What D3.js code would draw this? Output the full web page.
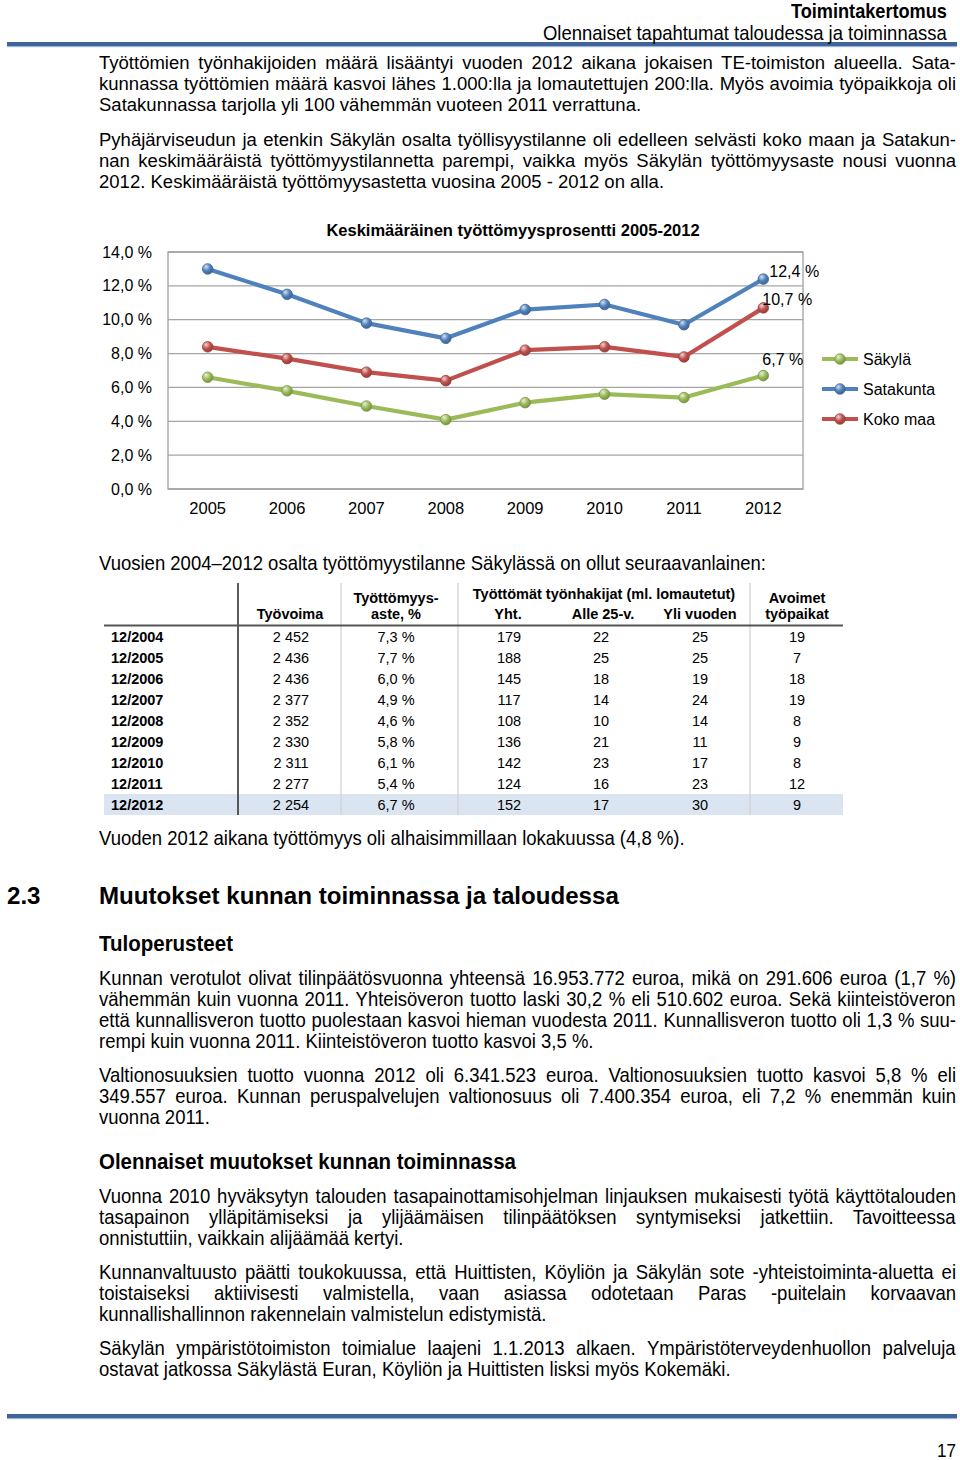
<!DOCTYPE html>
<html><head><meta charset="utf-8">
<script src="https://cdn.jsdelivr.net/npm/d3@7"></script>
<style>
body{margin:0;background:#fff;}
#page{position:relative;width:960px;height:1460px;overflow:hidden;background:#fff;}
#svg{position:absolute;left:0;top:0;}
.ln{position:absolute;white-space:nowrap;color:#000;line-height:21px;}
</style></head><body><div id="page"><svg id="svg" width="960" height="1460"></svg></div>
<script>
// ---------- chart data ----------
const years = ["2005","2006","2007","2008","2009","2010","2011","2012"];
const sakyla    = [6.6, 5.8, 4.9, 4.1, 5.1, 5.6, 5.4, 6.7];
const satakunta = [13.0, 11.5, 9.8, 8.9, 10.6, 10.9, 9.7, 12.4];
const kokoMaa   = [8.4, 7.7, 6.9, 6.4, 8.2, 8.4, 7.8, 10.7];
const seriesNames = ["Säkylä", "Satakunta", "Koko maa"];
const yTicks = [0, 2, 4, 6, 8, 10, 12, 14];
const chartTitle = "Keskimääräinen työttömyysprosentti 2005-2012";

// ---------- table data ----------
const periods  = ["12/2004","12/2005","12/2006","12/2007","12/2008","12/2009","12/2010","12/2011","12/2012"];
const tyovoima = [2452, 2436, 2436, 2377, 2352, 2330, 2311, 2277, 2254];
const aste     = [7.3, 7.7, 6.0, 4.9, 4.6, 5.8, 6.1, 5.4, 6.7];
const yht      = [179, 188, 145, 117, 108, 136, 142, 124, 152];
const alle25   = [22, 25, 18, 14, 10, 21, 23, 16, 17];
const yliVuoden= [25, 25, 19, 24, 14, 11, 17, 23, 30];
const avoimet  = [19, 7, 18, 19, 8, 9, 8, 12, 9];

// ---------- text ----------
const P1 = ["Työttömien työnhakijoiden määrä lisääntyi vuoden 2012 aikana jokaisen TE-toimiston alueella. Sata-",
      "kunnassa työttömien määrä kasvoi lähes 1.000:lla ja lomautettujen 200:lla. Myös avoimia työpaikkoja oli",
      "Satakunnassa tarjolla yli 100 vähemmän vuoteen 2011 verrattuna."];
const P2 = ["Pyhäjärviseudun ja etenkin Säkylän osalta työllisyystilanne oli edelleen selvästi koko maan ja Satakun-",
      "nan keskimääräistä työttömyystilannetta parempi, vaikka myös Säkylän työttömyysaste nousi vuonna",
      "2012. Keskimääräistä työttömyysastetta vuosina 2005 - 2012 on alla."];
const N1 = ["Vuosien 2004–2012 osalta työttömyystilanne Säkylässä on ollut seuraavanlainen:"];
const N2 = ["Vuoden 2012 aikana työttömyys oli alhaisimmillaan lokakuussa (4,8 %)."];
const N3 = ["Kunnan verotulot olivat tilinpäätösvuonna yhteensä 16.953.772 euroa, mikä on 291.606 euroa (1,7 %)",
      "vähemmän kuin vuonna 2011. Yhteisöveron tuotto laski 30,2 % eli 510.602 euroa. Sekä kiinteistöveron",
      "että kunnallisveron tuotto puolestaan kasvoi hieman vuodesta 2011. Kunnallisveron tuotto oli 1,3 % suu-",
      "rempi kuin vuonna 2011. Kiinteistöveron tuotto kasvoi 3,5 %."];
const N4 = ["Valtionosuuksien tuotto vuonna 2012 oli 6.341.523 euroa. Valtionosuuksien tuotto kasvoi 5,8 % eli",
      "349.557 euroa. Kunnan peruspalvelujen valtionosuus oli 7.400.354 euroa, eli 7,2 % enemmän kuin",
      "vuonna 2011."];
const N5 = ["Vuonna 2010 hyväksytyn talouden tasapainottamisohjelman linjauksen mukaisesti työtä käyttötalouden",
      "tasapainon ylläpitämiseksi ja ylijäämäisen tilinpäätöksen syntymiseksi jatkettiin. Tavoitteessa",
      "onnistuttiin, vaikkain alijäämää kertyi."];
const N6 = ["Kunnanvaltuusto päätti toukokuussa, että Huittisten, Köyliön ja Säkylän sote -yhteistoiminta-aluetta ei",
      "toistaiseksi aktiivisesti valmistella, vaan asiassa odotetaan Paras -puitelain korvaavan",
      "kunnallishallinnon rakennelain valmistelun edistymistä."];
const N7 = ["Säkylän ympäristötoimiston toimialue laajeni 1.1.2013 alkaen. Ympäristöterveydenhuollon palveluja",
      "ostavat jatkossa Säkylästä Euran, Köyliön ja Huittisten lisksi myös Kokemäki."];

// ---------- fonts / helpers ----------
const AF = "'Liberation Sans', Arial, sans-serif";
const cv = document.createElement('canvas').getContext('2d');
function mw(t, size, fam, wt){ cv.font = `${wt||'normal'} ${size}px ${fam}`; return cv.measureText(t).width; }
const hasNarrow = mw('Hamburgefonstiv 123', 50, "'Liberation Sans Narrow', monospace") !== mw('Hamburgefonstiv 123', 50, 'monospace');
const NF = hasNarrow ? "'Liberation Sans Narrow', 'Arial Narrow', sans-serif" : AF;
const NSX = hasNarrow ? 1.1 : 0.9;
function fit(t, target, fam, wt, sx){ return 100*target/(mw(t,100,fam,wt)*(sx||1)); }

const page = d3.select('#page');
function place(t, o){
  const fam=o.fam, wt=o.wt||'normal', size=o.size, sx=o.sx||1;
  const nat = mw(t, size, fam, wt);
  let ws = 0;
  if (o.justifyW){ const sp=(t.match(/ /g)||[]).length; if (sp) ws=(o.justifyW/sx - nat)/sp; }
  const left = o.anchor==='end' ? o.x - nat*sx : o.x;
  const lh = o.lh || 21;
  page.append('div').attr('class','ln')
    .style('left', left+'px').style('top', (o.yc-lh/2)+'px').style('line-height', lh+'px')
    .style('font-family', fam).style('font-weight', wt).style('font-size', size+'px')
    .style('word-spacing', ws+'px')
    .style('transform', sx!==1?`scaleX(${sx})`:null).style('transform-origin','0 0')
    .text(t);
}
const TW = 857, TX = 99;
function bodySize(fam, sx, refLine, refW, paras){
  let s = fit(refLine, refW, fam, 'normal', sx);
  paras.forEach(p=>p.slice(0,-1).forEach(l=>{ s = Math.min(s, fit(l, TW-6, fam, 'normal', sx)); }));
  return s;
}
const bodyA = bodySize(AF, 1, P1[2], 561, [P1,P2]);
const bodyN = bodySize(NF, NSX, N2[0], 589, [N3,N4,N5,N6,N7]);

function para(lines, y0, kind){
  lines.forEach((t,i)=>{
    const last = i===lines.length-1;
    if(kind==='A') place(t,{x:TX,yc:y0+i*21,fam:AF,size:bodyA,justifyW:last?null:TW});
    else place(t,{x:TX,yc:y0+i*21,fam:NF,size:bodyN,sx:NSX,justifyW:last?null:TW});
  });
}

// header
place("Toimintakertomus",{x:947,yc:11,lh:18,fam:NF,wt:'bold',size:fit("Toimintakertomus",156,NF,'bold',NSX),sx:NSX,anchor:'end'});
place("Olennaiset tapahtumat taloudessa ja toiminnassa",{x:947,yc:32.5,lh:19,fam:NF,size:fit("Olennaiset tapahtumat taloudessa ja toiminnassa",404,NF,'normal',NSX),sx:NSX,anchor:'end'});

para(P1, 62, 'A');
para(P2, 139, 'A');
para(N1, 562, 'N');
para(N2, 837, 'N');

const hSize = fit("Muutokset kunnan toiminnassa ja taloudessa",520,AF,'bold',1);
place("2.3",{x:7,yc:895,fam:AF,wt:'bold',size:hSize});
place("Muutokset kunnan toiminnassa ja taloudessa",{x:99,yc:895,fam:AF,wt:'bold',size:hSize});
place("Tuloperusteet",{x:99,yc:943,fam:NF,wt:'bold',size:fit("Tuloperusteet",134,NF,'bold',NSX),sx:NSX});
para(N3, 977, 'N');
para(N4, 1074, 'N');
place("Olennaiset muutokset kunnan toiminnassa",{x:99,yc:1161,fam:NF,wt:'bold',size:fit("Olennaiset muutokset kunnan toiminnassa",417,NF,'bold',NSX),sx:NSX});
para(N5, 1195, 'N');
para(N6, 1271, 'N');
para(N7, 1347, 'N');
place("17",{x:956,yc:1450,fam:NF,size:19,sx:NSX,anchor:'end'});

// ---------- SVG ----------
const svg = d3.select('#svg');
function rule(y){
  svg.append('rect').attr('x',7).attr('y',y-2).attr('width',950).attr('height',4).attr('fill','#41659a');
  svg.append('rect').attr('x',7).attr('y',y+2).attr('width',950).attr('height',1.2).attr('fill','#9fb6d6');
}
rule(44); rule(1416);

// chart
const x = d3.scaleBand().domain(years).range([168, 803]);
const y = d3.scaleLinear().domain([0, 14]).range([489, 252]);
const cx = d => x(d) + x.bandwidth()/2;
const ch = svg.append('g').attr('font-family', AF);

ch.append('g').selectAll('line').data(yTicks).join('line')
  .attr('x1',168).attr('x2',803).attr('y1',d=>y(d)).attr('y2',d=>y(d))
  .attr('stroke','#a5a5a5').attr('stroke-width',1.3);
ch.append('rect').attr('x',168).attr('y',y(14)).attr('width',635).attr('height',y(0)-y(14))
  .attr('fill','none').attr('stroke','#a0a0a0').attr('stroke-width',1.3);

const fmtPct = d => d.toFixed(1).replace('.', ',') + ' %';
const ya = ch.append('g').attr('transform','translate(168,0)')
  .call(d3.axisLeft(y).tickValues(yTicks).tickSize(0).tickPadding(16).tickFormat(fmtPct));
ya.select('.domain').remove();
ya.selectAll('text').attr('font-size',16).attr('fill','#000').attr('font-family',AF);
const xa = ch.append('g').attr('transform','translate(0,489)')
  .call(d3.axisBottom(x).tickSize(0).tickPadding(13));
xa.select('.domain').remove();
xa.selectAll('text').attr('font-size',16.5).attr('fill','#000').attr('font-family',AF);

ch.append('text').attr('x',513).attr('y',230).attr('dy','0.35em').attr('text-anchor','middle')
  .attr('font-weight','bold').attr('font-size',16.5).text(chartTitle);

const series = [
  {name: seriesNames[0], values: sakyla,    color:'#9bbb59'},
  {name: seriesNames[1], values: satakunta, color:'#4f81bd'},
  {name: seriesNames[2], values: kokoMaa,   color:'#c0504d'}
];
const defs = svg.append('defs');
series.forEach((s,i)=>{
  const g = defs.append('radialGradient').attr('id','gr'+i).attr('cx','35%').attr('cy','30%').attr('r','70%');
  g.append('stop').attr('offset','0%').attr('stop-color', d3.interpolateRgb('#ffffff', s.color)(0.25));
  g.append('stop').attr('offset','55%').attr('stop-color', s.color);
  g.append('stop').attr('offset','100%').attr('stop-color', d3.color(s.color).darker(0.7));
  s.grad = 'url(#gr'+i+')';
});
const line = d3.line().x((d,i)=>cx(years[i])).y(d=>y(d));
[series[0], series[2], series[1]].forEach(s=>{
  ch.append('path').attr('d', line(s.values)).attr('fill','none')
    .attr('stroke', s.color).attr('stroke-width',4.2).attr('stroke-linejoin','round').attr('stroke-linecap','round');
  ch.append('g').selectAll('circle').data(s.values).join('circle')
    .attr('cx',(d,i)=>cx(years[i])).attr('cy',d=>y(d)).attr('r',5.3)
    .attr('fill', s.grad).attr('stroke', d3.color(s.color).darker(0.6)).attr('stroke-width',0.8);
});
// end labels
const labelOff = [{dx:-1,dy:-16},{dx:6,dy:-8},{dx:-1,dy:-8}];
series.forEach((s,i)=>{
  const v = s.values[s.values.length-1];
  ch.append('text').attr('x', cx(years[years.length-1]) + labelOff[i].dx)
    .attr('y', y(v) + labelOff[i].dy).attr('dy','0.35em').attr('font-size',16).text(fmtPct(v));
});
// legend
const lg = ch.append('g').selectAll('g').data(series).join('g')
  .attr('transform',(d,i)=>`translate(0,${359+i*30})`);
lg.append('line').attr('x1',822).attr('x2',858).attr('stroke',d=>d.color).attr('stroke-width',4.2);
lg.append('circle').attr('cx',840).attr('r',5.3).attr('fill',d=>d.grad).attr('stroke',d=>d3.color(d.color).darker(0.6)).attr('stroke-width',0.8);
lg.append('text').attr('x',863).attr('dy','0.35em').attr('font-size',16).text(d=>d.name);

// table
const tb = svg.append('g').attr('font-family', AF).attr('font-size',14.5);
const ry = d3.scaleBand().domain(periods).range([626, 815]);
tb.append('rect').attr('x',104).attr('y',ry("12/2012")).attr('width',739).attr('height',ry.bandwidth()).attr('fill','#dbe5f1');
[341,458,750].forEach(xx=>tb.append('line').attr('x1',xx).attr('x2',xx).attr('y1',583).attr('y2',815).attr('stroke','#d0d0d0').attr('stroke-width',1.2));
tb.append('line').attr('x1',238).attr('x2',238).attr('y1',583).attr('y2',815).attr('stroke','#333').attr('stroke-width',1.6);
tb.append('line').attr('x1',104).attr('x2',843).attr('y1',625.5).attr('y2',625.5).attr('stroke','#555').attr('stroke-width',2);
const heads = [
  ["Työvoima",290,614],["Työttömyys-",396,598],["aste, %",396,614],
  ["Työttömät työnhakijat (ml. lomautetut)",604,594],["Yht.",508,614],["Alle 25-v.",603,614],["Yli vuoden",700,614],
  ["Avoimet",797,598],["työpaikat",797,614]];
tb.append('g').selectAll('text').data(heads).join('text')
  .attr('x',d=>d[1]).attr('y',d=>d[2]).attr('dy','0.35em').attr('text-anchor','middle').attr('font-weight','bold').text(d=>d[0]);
const fmtN = d => d3.format(",")(d).replace(/,/g,' ');
const cols = [
  {vals: tyovoima, x: 291, f: fmtN},
  {vals: aste, x: 396, f: fmtPct},
  {vals: yht, x: 509, f: String},
  {vals: alle25, x: 601, f: String},
  {vals: yliVuoden, x: 700, f: String},
  {vals: avoimet, x: 797, f: String}
];
const rows = tb.append('g').selectAll('g').data(periods).join('g')
  .attr('transform', d=>`translate(0,${ry(d)+ry.bandwidth()/2})`);
rows.append('text').attr('x',111).attr('dy','0.35em').attr('font-weight','bold').text(d=>d);
cols.forEach(c=>{
  rows.append('text').attr('x',c.x).attr('dy','0.35em').attr('text-anchor','middle').text((d,i)=>c.f(c.vals[i]));
});
</script></body></html>
